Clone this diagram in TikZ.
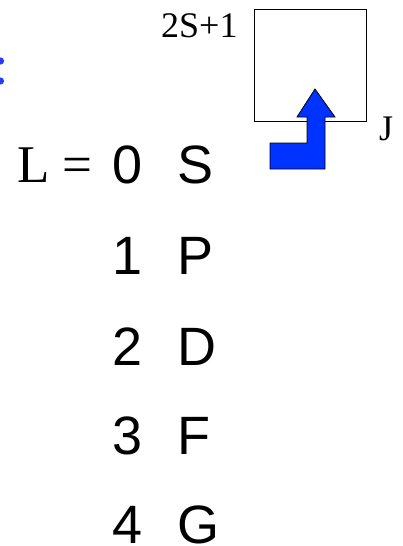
\documentclass[tikz,border=0pt]{standalone}
\usepackage{fontspec}
\setmainfont{Liberation Serif}
\newfontfamily\arialfont{Liberation Sans}
\definecolor{arrowblue}{RGB}{0,51,255}
\definecolor{colonblue}{RGB}{40,60,255}
\tikzset{
  serifbig/.style={inner sep=0pt, anchor=base west, font=\fontsize{53}{60}\selectfont},
  serifsmall/.style={inner sep=0pt, anchor=base west, font=\fontsize{36}{40}\selectfont},
  sansbig/.style={inner sep=0pt, anchor=base west, font=\arialfont\fontsize{54}{60}\selectfont},
  termbox/.style={draw=black, line width=0.9pt},
  bluearrow/.style={draw=black, line width=0.8pt, fill=arrowblue, line join=miter},
  colondot/.style={fill=colonblue, draw=none}
}
\begin{document}
\begin{tikzpicture}[x=1pt,y=-1pt]
\useasboundingbox (0,0) rectangle (402,546);
% partially visible blue colon at left edge
\fill[colondot] (0.5,61) circle (3.6);
\fill[colondot] (0.5,81) circle (3.6);
% term symbol box
\draw[termbox] (254,9) rectangle (366,121);
\node[serifsmall] (mult) at (161,37) {2S+1};
\node[serifsmall] (jlab) at (379,140) {J};
% bent blue arrow
\draw[bluearrow] (315,89) -- (335,117) -- (325,117) -- (325,169) -- (270,169)
  -- (270,143) -- (307,143) -- (307,117) -- (297,117) -- cycle;
% L = rows
\node[serifbig] (leq) at (17,182) {L =};
\node[sansbig] (d0) at (112,183) {0};
\node[sansbig] (l0) at (177,183) {S};
\node[sansbig] (d1) at (112,274) {1};
\node[sansbig] (l1) at (177,274) {P};
\node[sansbig] (d2) at (112,365) {2};
\node[sansbig] (l2) at (177,365) {D};
\node[sansbig] (d3) at (112,454) {3};
\node[sansbig] (l3) at (177,454) {F};
\node[sansbig] (d4) at (112,543) {4};
\node[sansbig] (l4) at (177,543) {G};
\end{tikzpicture}
\end{document}
